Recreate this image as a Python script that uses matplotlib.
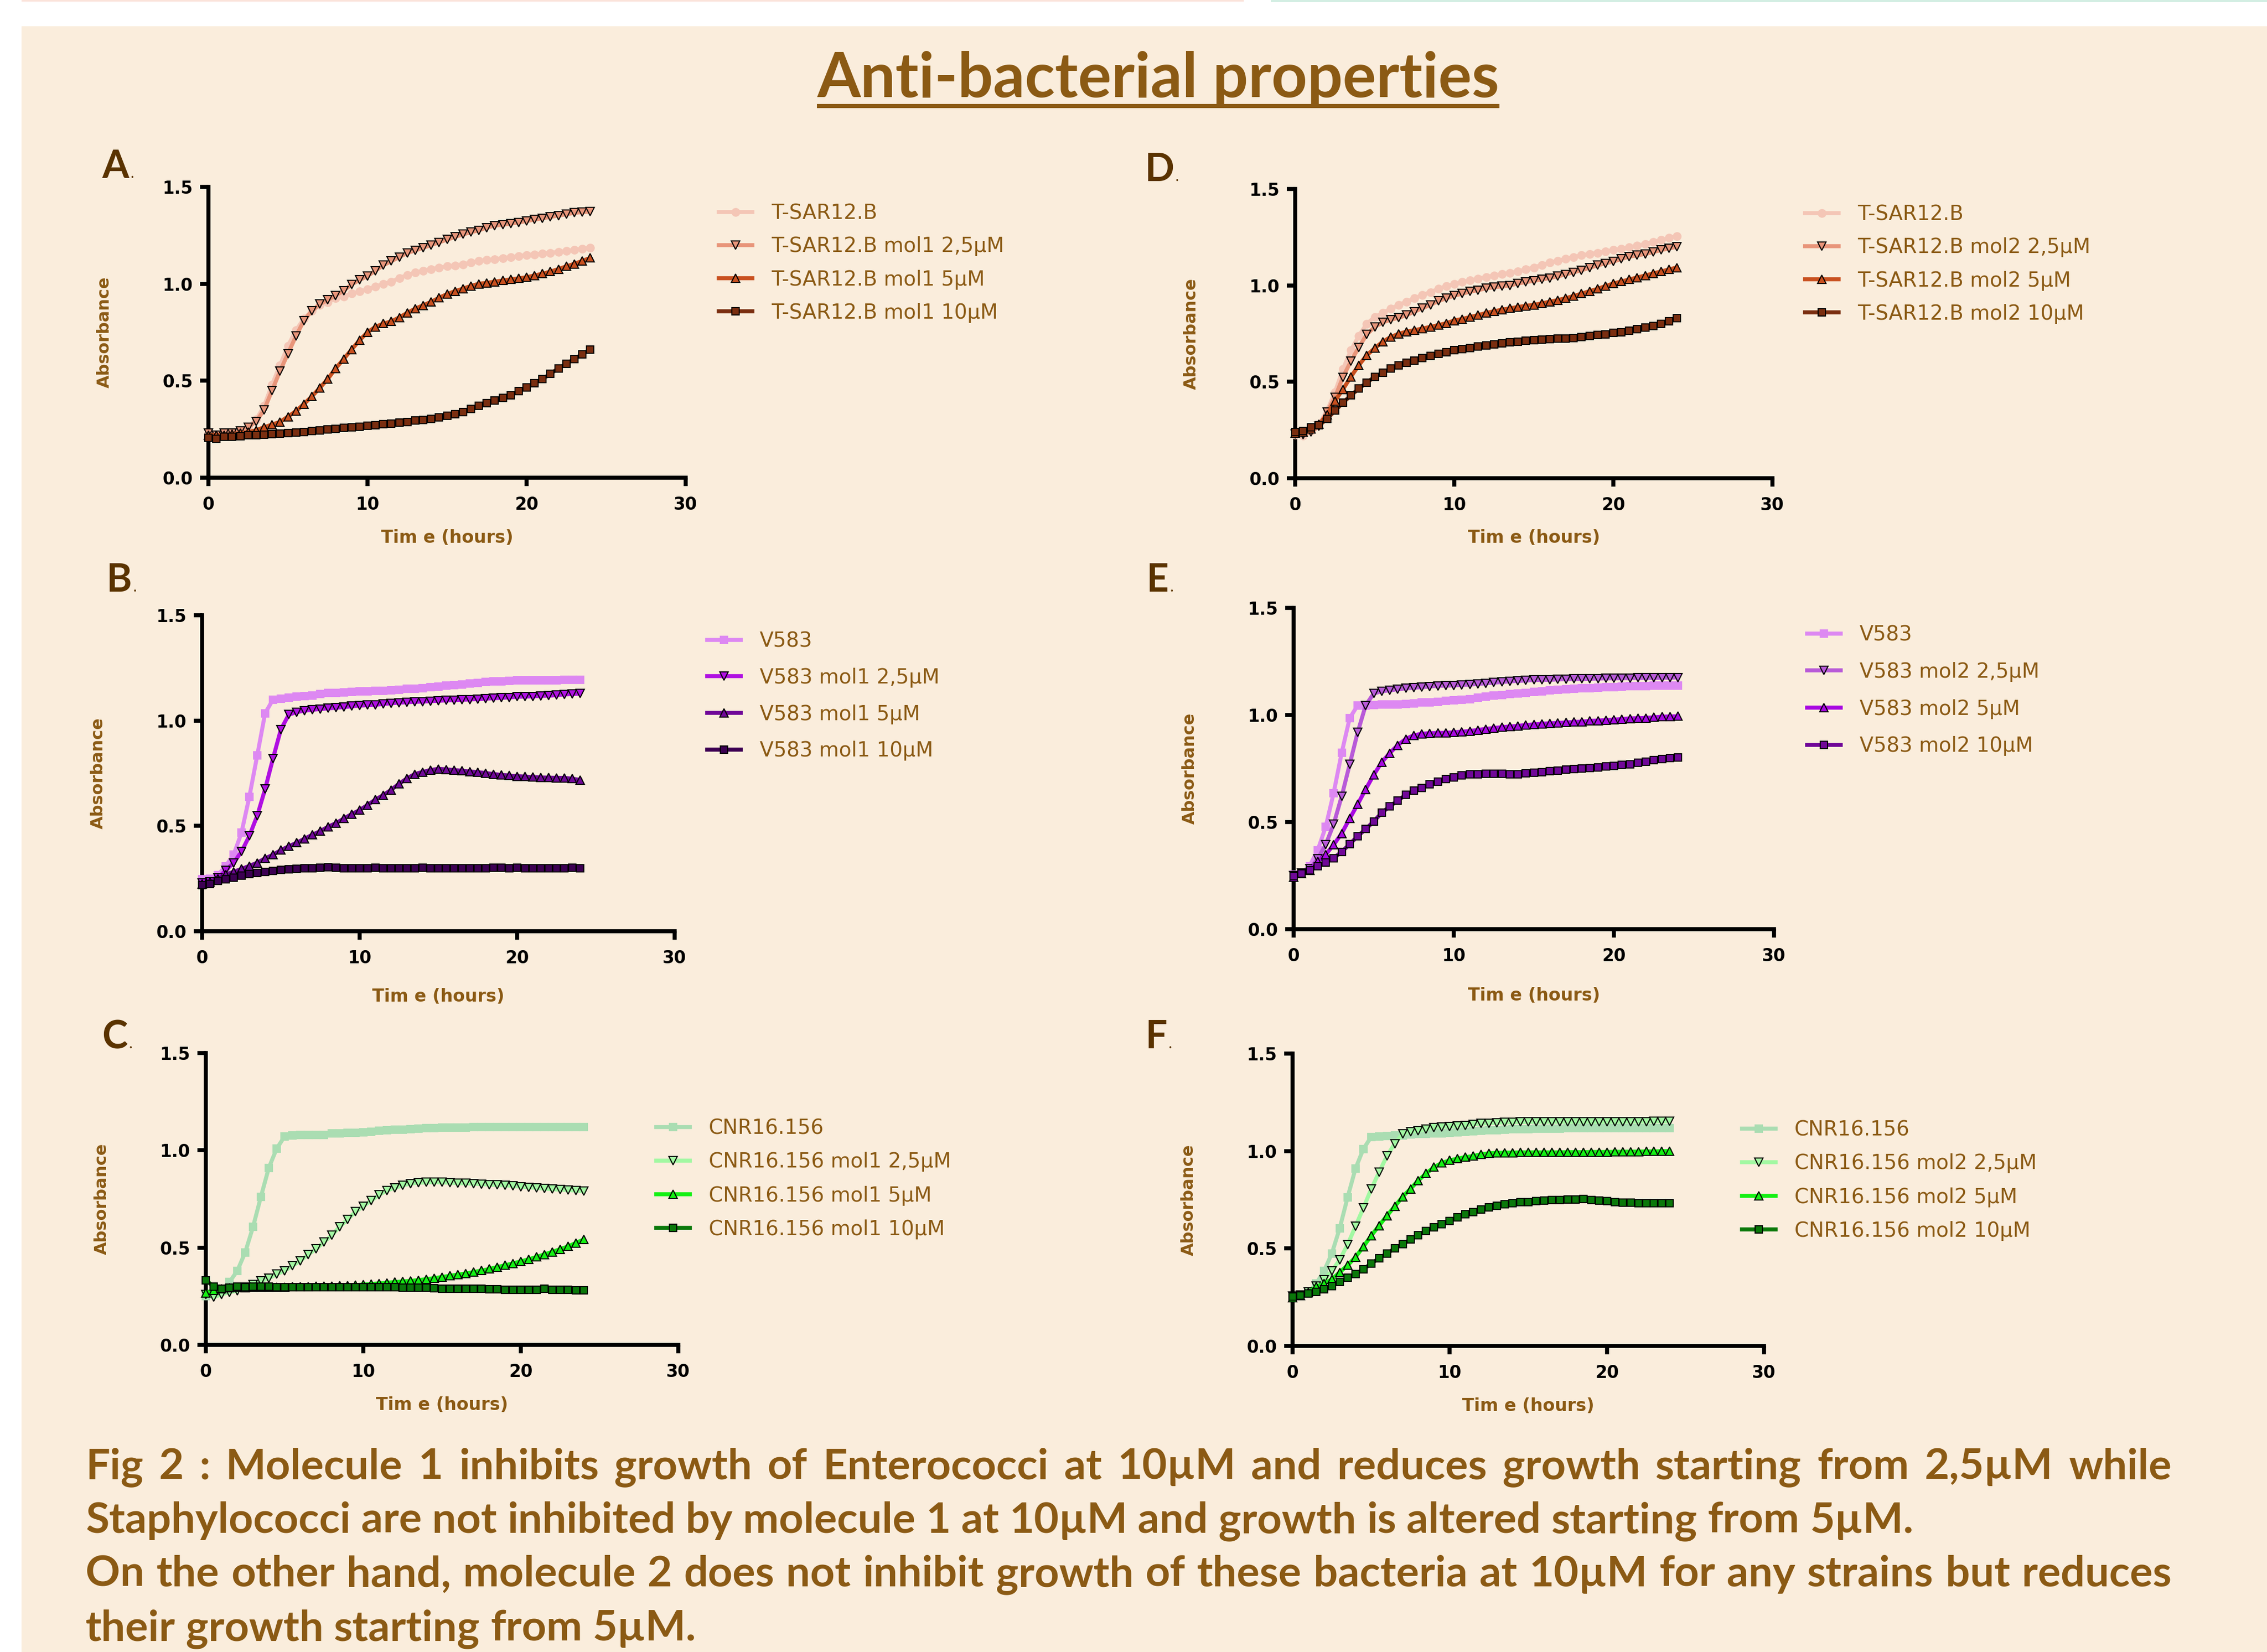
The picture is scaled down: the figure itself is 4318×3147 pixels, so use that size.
import matplotlib
matplotlib.use('Agg')
import matplotlib.pyplot as plt
import numpy as np
from matplotlib import font_manager
from matplotlib.lines import Line2D
from matplotlib.patches import Rectangle

W, H, DPI = 4318, 3147, 100

# ---------------- data (absorbance every 0.5 h, 0..24 h) ----------------
time_h = np.arange(0, 24.5, 0.5)

tsar_labels_1 = ['T-SAR12.B', 'T-SAR12.B mol1 2,5µM', 'T-SAR12.B mol1 5µM', 'T-SAR12.B mol1 10µM']
tsar_labels_2 = ['T-SAR12.B', 'T-SAR12.B mol2 2,5µM', 'T-SAR12.B mol2 5µM', 'T-SAR12.B mol2 10µM']
v583_labels_1 = ['V583', 'V583 mol1 2,5µM', 'V583 mol1 5µM', 'V583 mol1 10µM']
v583_labels_2 = ['V583', 'V583 mol2 2,5µM', 'V583 mol2 5µM', 'V583 mol2 10µM']
cnr_labels_1 = ['CNR16.156', 'CNR16.156 mol1 2,5µM', 'CNR16.156 mol1 5µM', 'CNR16.156 mol1 10µM']
cnr_labels_2 = ['CNR16.156', 'CNR16.156 mol2 2,5µM', 'CNR16.156 mol2 5µM', 'CNR16.156 mol2 10µM']

A_ctrl = [0.23, 0.22, 0.23, 0.23, 0.24, 0.26, 0.30, 0.37, 0.48, 0.58, 0.68, 0.76, 0.82, 0.86,
          0.89, 0.905, 0.925, 0.935, 0.95, 0.96, 0.972, 0.985, 1.00, 1.01, 1.03, 1.045, 1.058, 1.068,
          1.076, 1.083, 1.09, 1.095, 1.10, 1.11, 1.118, 1.123, 1.127, 1.133, 1.138, 1.143, 1.149, 1.152,
          1.156, 1.16, 1.165, 1.17, 1.175, 1.18, 1.186]
A_25 = [0.23, 0.22, 0.23, 0.23, 0.24, 0.26, 0.29, 0.35, 0.45, 0.55, 0.64, 0.73, 0.81, 0.86,
        0.895, 0.917, 0.94, 0.965, 0.997, 1.02, 1.04, 1.068, 1.096, 1.117, 1.138, 1.159, 1.172, 1.186,
        1.20, 1.214, 1.228, 1.242, 1.255, 1.266, 1.276, 1.29, 1.30, 1.305, 1.31, 1.317, 1.324, 1.331,
        1.338, 1.345, 1.352, 1.359, 1.366, 1.37, 1.373]
A_5 = [0.22, 0.22, 0.22, 0.225, 0.23, 0.235, 0.245, 0.26, 0.274, 0.288, 0.315, 0.343, 0.38, 0.419,
       0.463, 0.509, 0.564, 0.612, 0.661, 0.709, 0.75, 0.778, 0.795, 0.806, 0.827, 0.85, 0.872, 0.889,
       0.907, 0.928, 0.947, 0.962, 0.975, 0.989, 1.0, 1.005, 1.011, 1.017, 1.023, 1.028, 1.034, 1.043,
       1.052, 1.063, 1.076, 1.09, 1.103, 1.118, 1.134]
A_10 = [0.205, 0.20, 0.21, 0.21, 0.215, 0.22, 0.22, 0.222, 0.225, 0.228, 0.23, 0.232, 0.236, 0.24,
        0.244, 0.248, 0.253, 0.256, 0.26, 0.263, 0.267, 0.272, 0.277, 0.28, 0.283, 0.288, 0.294, 0.299,
        0.304, 0.311, 0.319, 0.328, 0.339, 0.354, 0.37, 0.384, 0.398, 0.412, 0.426, 0.446, 0.467, 0.488,
        0.509, 0.536, 0.564, 0.588, 0.612, 0.637, 0.661]

B_ctrl = [0.246, 0.25, 0.267, 0.31, 0.363, 0.468, 0.639, 0.835, 1.035, 1.10, 1.104, 1.108, 1.114, 1.117,
          1.12, 1.125, 1.13, 1.131, 1.133, 1.136, 1.138, 1.139, 1.14, 1.142, 1.144, 1.147, 1.15, 1.152,
          1.154, 1.158, 1.161, 1.165, 1.168, 1.172, 1.175, 1.179, 1.183, 1.185, 1.187, 1.189, 1.19, 1.19,
          1.19, 1.19, 1.19, 1.192, 1.193, 1.193, 1.193]
B_25 = [0.23, 0.235, 0.253, 0.289, 0.325, 0.378, 0.453, 0.549, 0.675, 0.82, 0.958, 1.028, 1.04, 1.047,
        1.051, 1.055, 1.058, 1.061, 1.064, 1.068, 1.071, 1.073, 1.075, 1.079, 1.082, 1.085, 1.087, 1.089,
        1.09, 1.092, 1.094, 1.096, 1.097, 1.099, 1.10, 1.102, 1.104, 1.106, 1.108, 1.11, 1.113, 1.114,
        1.115, 1.117, 1.118, 1.121, 1.124, 1.126, 1.128]
B_5 = [0.225, 0.235, 0.25, 0.27, 0.282, 0.296, 0.31, 0.325, 0.346, 0.363, 0.385, 0.403, 0.42, 0.439,
       0.458, 0.475, 0.496, 0.513, 0.535, 0.556, 0.575, 0.599, 0.625, 0.646, 0.671, 0.70, 0.725, 0.746,
       0.756, 0.765, 0.771, 0.768, 0.765, 0.762, 0.758, 0.755, 0.751, 0.746, 0.742, 0.739, 0.736, 0.734,
       0.732, 0.73, 0.729, 0.728, 0.728, 0.724, 0.718]
B_10 = [0.22, 0.225, 0.239, 0.246, 0.253, 0.263, 0.272, 0.277, 0.282, 0.286, 0.292, 0.295, 0.297, 0.299,
        0.30, 0.302, 0.303, 0.302, 0.30, 0.30, 0.30, 0.30, 0.302, 0.299, 0.30, 0.30, 0.30, 0.30,
        0.301, 0.30, 0.298, 0.299, 0.30, 0.30, 0.30, 0.30, 0.30, 0.301, 0.301, 0.30, 0.301, 0.30,
        0.299, 0.30, 0.30, 0.30, 0.30, 0.301, 0.30]

C_ctrl = [0.252, 0.265, 0.284, 0.323, 0.381, 0.475, 0.607, 0.762, 0.91, 1.009, 1.071, 1.077, 1.078, 1.079,
          1.08, 1.08, 1.087, 1.088, 1.089, 1.09, 1.093, 1.096, 1.10, 1.103, 1.105, 1.107, 1.109, 1.111,
          1.113, 1.115, 1.117, 1.117, 1.118, 1.118, 1.119, 1.119, 1.119, 1.12, 1.12, 1.12, 1.12, 1.12,
          1.12, 1.12, 1.12, 1.12, 1.12, 1.12, 1.12]
C_25 = [0.258, 0.245, 0.26, 0.271, 0.278, 0.297, 0.31, 0.329, 0.342, 0.364, 0.381, 0.407, 0.432, 0.465,
        0.493, 0.529, 0.564, 0.607, 0.645, 0.684, 0.713, 0.742, 0.771, 0.794, 0.807, 0.82, 0.829, 0.834,
        0.835, 0.836, 0.835, 0.834, 0.831, 0.83, 0.829, 0.826, 0.824, 0.822, 0.82, 0.817, 0.813, 0.81,
        0.807, 0.803, 0.80, 0.798, 0.796, 0.793, 0.79]
C_5 = [0.268, 0.281, 0.29, 0.293, 0.297, 0.295, 0.296, 0.298, 0.297, 0.298, 0.297, 0.299, 0.30, 0.30,
       0.301, 0.302, 0.303, 0.304, 0.306, 0.307, 0.31, 0.313, 0.316, 0.319, 0.323, 0.326, 0.329, 0.333,
       0.338, 0.343, 0.349, 0.355, 0.361, 0.367, 0.374, 0.382, 0.39, 0.40, 0.409, 0.419, 0.429, 0.44,
       0.452, 0.465, 0.478, 0.492, 0.506, 0.524, 0.542]
C_10 = [0.333, 0.30, 0.29, 0.294, 0.30, 0.298, 0.30, 0.30, 0.30, 0.298, 0.297, 0.297, 0.297, 0.297,
        0.297, 0.297, 0.297, 0.296, 0.297, 0.297, 0.297, 0.297, 0.297, 0.296, 0.297, 0.295, 0.294, 0.294,
        0.294, 0.292, 0.29, 0.29, 0.289, 0.289, 0.289, 0.288, 0.287, 0.286, 0.284, 0.284, 0.284, 0.284,
        0.284, 0.29, 0.283, 0.282, 0.282, 0.281, 0.281]

D_ctrl = [0.225, 0.22, 0.246, 0.28, 0.35, 0.447, 0.565, 0.663, 0.739, 0.801, 0.836, 0.857, 0.878, 0.899,
          0.915, 0.933, 0.95, 0.965, 0.982, 0.996, 1.007, 1.017, 1.026, 1.035, 1.044, 1.051, 1.058, 1.065,
          1.072, 1.083, 1.093, 1.106, 1.118, 1.128, 1.138, 1.147, 1.156, 1.163, 1.169, 1.176, 1.183, 1.19,
          1.197, 1.206, 1.215, 1.225, 1.235, 1.246, 1.256]
D_25 = [0.23, 0.225, 0.24, 0.27, 0.343, 0.42, 0.524, 0.607, 0.679, 0.746, 0.785, 0.808, 0.822, 0.832,
        0.846, 0.864, 0.882, 0.899, 0.919, 0.933, 0.947, 0.957, 0.968, 0.975, 0.985, 0.99, 0.996, 1.0,
        1.01, 1.017, 1.024, 1.031, 1.038, 1.047, 1.057, 1.068, 1.079, 1.091, 1.104, 1.114, 1.124, 1.137,
        1.149, 1.156, 1.163, 1.173, 1.183, 1.192, 1.20]
D_5 = [0.235, 0.24, 0.255, 0.28, 0.33, 0.401, 0.461, 0.526, 0.586, 0.638, 0.674, 0.708, 0.732, 0.749,
       0.76, 0.768, 0.776, 0.785, 0.794, 0.804, 0.818, 0.826, 0.836, 0.846, 0.857, 0.866, 0.874, 0.881,
       0.888, 0.894, 0.899, 0.907, 0.915, 0.924, 0.933, 0.945, 0.957, 0.97, 0.982, 0.996, 1.01, 1.02,
       1.031, 1.041, 1.051, 1.062, 1.072, 1.083, 1.093]
D_10 = [0.239, 0.246, 0.263, 0.274, 0.308, 0.35, 0.392, 0.429, 0.465, 0.496, 0.526, 0.547, 0.568, 0.586,
        0.60, 0.611, 0.624, 0.635, 0.644, 0.653, 0.663, 0.669, 0.676, 0.683, 0.69, 0.695, 0.70, 0.704,
        0.708, 0.712, 0.715, 0.718, 0.721, 0.723, 0.725, 0.728, 0.732, 0.737, 0.742, 0.747, 0.753, 0.758,
        0.764, 0.772, 0.781, 0.79, 0.801, 0.814, 0.829]

E_ctrl = [0.255, 0.262, 0.295, 0.368, 0.477, 0.636, 0.823, 0.985, 1.045, 1.045, 1.047, 1.048, 1.05, 1.05,
          1.051, 1.054, 1.058, 1.06, 1.062, 1.065, 1.069, 1.071, 1.074, 1.08, 1.085, 1.09, 1.094, 1.097,
          1.10, 1.104, 1.107, 1.11, 1.114, 1.117, 1.12, 1.122, 1.124, 1.126, 1.128, 1.13, 1.131, 1.132,
          1.134, 1.134, 1.135, 1.137, 1.138, 1.138, 1.138]
E_25 = [0.251, 0.262, 0.281, 0.328, 0.394, 0.49, 0.62, 0.769, 0.919, 1.045, 1.10, 1.111, 1.115, 1.12,
        1.124, 1.127, 1.13, 1.133, 1.136, 1.137, 1.138, 1.14, 1.142, 1.145, 1.148, 1.151, 1.154, 1.157,
        1.159, 1.161, 1.163, 1.164, 1.164, 1.166, 1.167, 1.168, 1.168, 1.169, 1.17, 1.171, 1.171, 1.172,
        1.172, 1.173, 1.173, 1.173, 1.174, 1.174, 1.175]
E_5 = [0.242, 0.259, 0.275, 0.315, 0.348, 0.394, 0.447, 0.516, 0.583, 0.653, 0.72, 0.779, 0.822, 0.859,
       0.888, 0.905, 0.912, 0.915, 0.916, 0.917, 0.919, 0.922, 0.925, 0.93, 0.935, 0.939, 0.943, 0.946,
       0.949, 0.953, 0.956, 0.959, 0.961, 0.963, 0.965, 0.967, 0.969, 0.972, 0.974, 0.976, 0.978, 0.981,
       0.984, 0.985, 0.986, 0.989, 0.992, 0.993, 0.994]
E_10 = [0.248, 0.259, 0.275, 0.295, 0.311, 0.332, 0.361, 0.397, 0.434, 0.467, 0.503, 0.543, 0.573, 0.60,
        0.627, 0.646, 0.66, 0.676, 0.689, 0.70, 0.709, 0.717, 0.723, 0.723, 0.726, 0.726, 0.726, 0.723,
        0.723, 0.728, 0.731, 0.734, 0.737, 0.741, 0.745, 0.748, 0.75, 0.752, 0.755, 0.759, 0.763, 0.766,
        0.77, 0.776, 0.782, 0.788, 0.793, 0.798, 0.802]

F_ctrl = [0.252, 0.262, 0.272, 0.32, 0.384, 0.475, 0.604, 0.762, 0.909, 1.01, 1.072, 1.074, 1.077, 1.079,
          1.081, 1.084, 1.087, 1.088, 1.09, 1.092, 1.094, 1.097, 1.10, 1.101, 1.103, 1.106, 1.108, 1.11,
          1.111, 1.112, 1.113, 1.115, 1.116, 1.116, 1.116, 1.117, 1.117, 1.118, 1.118, 1.118, 1.118, 1.118,
          1.118, 1.118, 1.118, 1.118, 1.118, 1.118, 1.118]
F_25 = [0.255, 0.262, 0.277, 0.307, 0.339, 0.384, 0.442, 0.52, 0.613, 0.707, 0.804, 0.891, 0.974, 1.038,
        1.087, 1.098, 1.104, 1.113, 1.121, 1.124, 1.126, 1.129, 1.132, 1.137, 1.141, 1.143, 1.145, 1.147,
        1.148, 1.149, 1.149, 1.15, 1.15, 1.15, 1.15, 1.15, 1.15, 1.15, 1.15, 1.15, 1.15, 1.15,
        1.15, 1.151, 1.151, 1.151, 1.152, 1.152, 1.152]
F_5 = [0.249, 0.258, 0.275, 0.303, 0.32, 0.342, 0.378, 0.414, 0.455, 0.509, 0.565, 0.617, 0.668, 0.716,
       0.765, 0.806, 0.849, 0.885, 0.917, 0.939, 0.952, 0.961, 0.969, 0.974, 0.984, 0.988, 0.991, 0.992,
       0.992, 0.993, 0.993, 0.993, 0.993, 0.993, 0.993, 0.994, 0.994, 0.994, 0.995, 0.995, 0.995, 0.996,
       0.996, 0.997, 0.997, 0.998, 0.998, 0.999, 1.0]
F_10 = [0.252, 0.259, 0.268, 0.277, 0.29, 0.307, 0.329, 0.35, 0.369, 0.393, 0.423, 0.449, 0.475, 0.50,
        0.522, 0.546, 0.569, 0.591, 0.608, 0.626, 0.642, 0.659, 0.675, 0.687, 0.70, 0.711, 0.72, 0.726,
        0.733, 0.737, 0.739, 0.742, 0.746, 0.748, 0.749, 0.751, 0.752, 0.755, 0.748, 0.745, 0.742, 0.739,
        0.735, 0.735, 0.733, 0.733, 0.733, 0.733, 0.733]

panel_letters = ['A', 'B', 'C', 'D', 'E', 'F']
x_ticks = [0, 10, 20, 30]
y_ticks = [0.0, 0.5, 1.0, 1.5]
y_ticklabels = ['0.0', '0.5', '1.0', '1.5']
x_label = 'Tim e (hours)'
y_label = 'Absorbance'
title_text = 'Anti-bacterial properties'
caption_lines = [
    'Fig 2 : Molecule 1 inhibits growth of Enterococci at 10µM and reduces growth starting from 2,5µM while',
    'Staphylococci are not inhibited by molecule 1 at 10µM and growth is altered starting from 5µM.',
    'On the other hand, molecule 2 does not inhibit growth of these bacteria at 10µM for any strains but reduces',
    'their growth starting from 5µM.',
]

# ---------------- styles ----------------
BG = '#FAEDDC'
BROWN = '#8B5A14'
DARK = '#5A3300'
tsar_colors = ['#F4C6B6', '#E8957A', '#C9501F', '#7A2E10']
v583_colors_1 = ['#DD88F2', '#B010E2', '#700898', '#3C0052']
v583_colors_2 = ['#DD88F2', '#B85AD8', '#A808E2', '#700898']
cnr_colors = ['#AADDB2', '#A2F8A2', '#14F014', '#0A780A']
markers_tsar = ['o', 'v', '^', 's']
markers_sq = ['s', 'v', '^', 's']

names = {f.name for f in font_manager.fontManager.ttflist}
def pick(*cands):
    for c in cands:
        if c in names:
            return c
    return 'DejaVu Sans'
CAPF = pick('Lato', 'Open Sans', 'DejaVu Sans')
plt.rcParams['font.family'] = ['DejaVu Sans']

fig = plt.figure(figsize=(W / DPI, H / DPI), dpi=DPI)
fig.patch.set_facecolor('white')
fig.add_artist(Rectangle((41 / W, 0), 1 - 41 / W, 1 - 50 / H, transform=fig.transFigure,
                         facecolor=BG, edgecolor='none', zorder=-10))
fig.add_artist(Rectangle((41 / W, 1 - 3 / H), (2369 - 41) / W, 3 / H, transform=fig.transFigure,
                         facecolor='#FBE3DA', edgecolor='none', zorder=-9))
fig.add_artist(Rectangle((2421 / W, 1 - 4 / H), (W - 2421) / W, 4 / H, transform=fig.transFigure,
                         facecolor='#D3EEE3', edgecolor='none', zorder=-9))

renderer = fig.canvas.get_renderer()

panels = [
    # data, labels, colors, markers, axes px (l, r, t, b), xlabel offset, legend (x, y1, spacing), letter (x, baseline)
    ([A_ctrl, A_25, A_5, A_10], tsar_labels_1, tsar_colors, markers_tsar, (397, 1306, 356, 910), 115, (1369, 402, 63.5), (194, 339)),
    ([B_ctrl, B_25, B_5, B_10], v583_labels_1, v583_colors_1, markers_sq, (385, 1285, 1172, 1774), 124, (1347, 1217, 70), (202, 1127)),
    ([C_ctrl, C_25, C_5, C_10], cnr_labels_1, cnr_colors, markers_sq, (392, 1292, 2006, 2562), 114, (1250, 2145, 64.5), (194, 1997)),
    ([D_ctrl, D_25, D_5, D_10], tsar_labels_2, tsar_colors, markers_tsar, (2467, 3376, 360, 911), 114, (3438, 404, 63.5), (2180, 345)),
    ([E_ctrl, E_25, E_5, E_10], v583_labels_2, v583_colors_2, markers_sq, (2464, 3379, 1158, 1770), 127, (3442, 1205, 71), (2183, 1127)),
    ([F_ctrl, F_25, F_5, F_10], cnr_labels_2, cnr_colors, markers_sq, (2462, 3360, 2007, 2564), 114, (3318, 2148, 64.5), (2181, 1997)),
]

LEG_FS = 28
leg_px = LEG_FS / 72 * DPI

for (series, labels, colors, markers, (l, r, t, b), xoff, (lx, ly, lsp), (px, pb)), letter in zip(panels, panel_letters):
    ax = fig.add_axes([l / W, 1 - b / H, (r - l) / W, (b - t) / H])
    ax.patch.set_alpha(0)
    for i, (y, lab, c, m) in enumerate(zip(series, labels, colors, markers)):
        n = len(y)
        ms = 12 if m in ('v', '^') else 10.5
        ax.plot(time_h[:n], y, color=c, lw=5.5, marker=m, ms=ms, mfc=c,
                mec=(c if i == 0 else 'black'), mew=1.5, clip_on=False, label=lab, zorder=3 + i)
    ax.set_xlim(0, 30)
    ax.set_ylim(0, 1.5)
    ax.set_xticks(x_ticks)
    ax.set_yticks(y_ticks)
    ax.set_yticklabels(y_ticklabels)
    for s in ('top', 'right'):
        ax.spines[s].set_visible(False)
    for s in ('left', 'bottom'):
        ax.spines[s].set_linewidth(5.5)
        ax.spines[s].set_color('black')
    ax.tick_params(axis='both', direction='out', length=11.5, width=5.5, labelsize=23.5, color='black')
    ax.tick_params(axis='x', pad=14)
    ax.tick_params(axis='y', pad=10)
    for lbl in ax.get_xticklabels() + ax.get_yticklabels():
        lbl.set_fontweight('bold')
    wpx, hpx = r - l, b - t
    ax.set_xlabel(x_label, fontsize=24, fontweight='bold', color=BROWN)
    ax.xaxis.set_label_coords(0.5, -xoff / hpx)
    ax.xaxis.label.set_va('center')
    ax.set_ylabel(y_label, fontsize=23, fontweight='bold', color=BROWN)
    ax.yaxis.set_label_coords(-198 / wpx, 0.5)
    ax.yaxis.label.set_va('center')

    leg = ax.legend(loc='upper left', bbox_to_anchor=(lx / W, 1 - (ly - 0.38 * leg_px) / H),
                    bbox_transform=fig.transFigure, frameon=False, fontsize=LEG_FS,
                    handlelength=64 / leg_px, handletextpad=36 / leg_px,
                    labelspacing=(lsp - 0.985 * leg_px) / leg_px, borderpad=0, borderaxespad=0,
                    numpoints=1)
    for txt in leg.get_texts():
        txt.set_color(BROWN)

    # panel letter
    tl = fig.text(px / W, 1 - pb / H, letter, fontsize=53, fontweight='bold', color=DARK,
                  family=CAPF, ha='left', va='baseline')
    lw_ = tl.get_window_extent(renderer).width
    fig.text((px + lw_ + 3) / W, 1 - pb / H, '.', fontsize=20, color=DARK, family=CAPF,
             ha='left', va='baseline')

# ---------------- title ----------------
tt = fig.text(2206 / W, 1 - 185 / H, title_text, fontsize=80, fontweight='bold', color=BROWN,
              family=CAPF, ha='center', va='baseline')
tw = tt.get_window_extent(renderer).width
tt.set_fontsize(80 * 1300 / tw)
bb = tt.get_window_extent(renderer)
fig.add_artist(Line2D([bb.x0 / W, bb.x1 / W], [1 - 202 / H, 1 - 202 / H], transform=fig.transFigure,
                      color=BROWN, lw=8 * 72 / DPI, solid_capstyle='butt'))

# ---------------- caption ----------------
cap_base = [2817, 2920, 3022, 3125]
cap_just = [True, False, True, False]
X0, X1 = 163, 4136

def natural_width(s, size):
    p = fig.text(0, 0, s, fontsize=size, fontweight='bold', family=CAPF)
    w_ = p.get_window_extent(renderer).width
    p.remove()
    return w_

CFS = 60 * (3982 - X0) / natural_width(caption_lines[1], 60)
# make sure justified lines still fit with some spacing left
for k in (0, 2):
    nw = natural_width(caption_lines[k], CFS)
    if nw > (X1 - X0) * 0.985:
        CFS *= (X1 - X0) * 0.985 / nw

for line, base, just in zip(caption_lines, cap_base, cap_just):
    words = line.split(' ')
    texts = [fig.text(0, 1 - base / H, wd, fontsize=CFS, fontweight='bold', color=BROWN,
                      family=CAPF, ha='left', va='baseline') for wd in words]
    widths = [tx.get_window_extent(renderer).width for tx in texts]
    fw = natural_width(line, CFS)
    gap = (fw - sum(widths)) / max(len(words) - 1, 1)
    if just:
        gap = (X1 - X0 - sum(widths)) / (len(words) - 1)
    x = X0
    for tx, w_ in zip(texts, widths):
        tx.set_x(x / W)
        x += w_ + gap

fig.savefig('out.png', dpi=DPI, facecolor=fig.get_facecolor())
